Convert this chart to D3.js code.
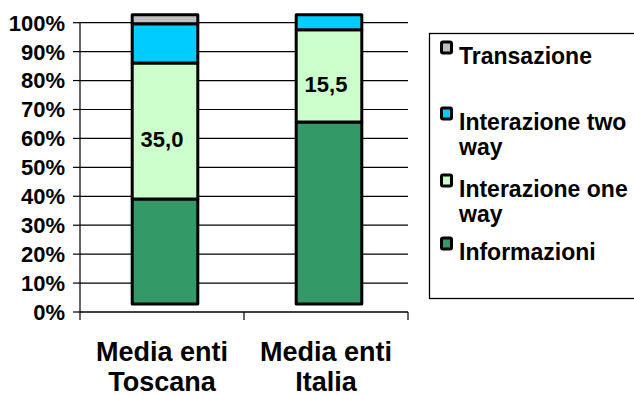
<!DOCTYPE html>
<html>
<head>
<meta charset="utf-8">
<script src="https://cdn.jsdelivr.net/npm/d3@7"></script>
<style>
  body { margin: 0; background: #fff; overflow: hidden; }
  text { font-family: "Liberation Sans", Arial, sans-serif; font-weight: bold; fill: #000; }
</style>
</head>
<body>
<div id="chart"></div>
<script>
// values (percent of each bar)
var categories = [['Media enti', 'Toscana'], ['Media enti', 'Italia']];
var informazioni = [36.3, 62.9];
var oneWay = [47.0, 31.9];
var twoWay = [13.6, 5.2];
var transazione = [3.1, 0];
var barLabels = ['35,0', '15,5'];
var yTicks = [0, 10, 20, 30, 40, 50, 60, 70, 80, 90, 100];

var seriesKeys = ['informazioni', 'oneWay', 'twoWay', 'transazione'];
var seriesColors = ['#339966', '#ccffcc', '#00ccff', '#c0c0c0'];
var legendLabels = [['Transazione'], ['Interazione two', 'way'], ['Interazione one', 'way'], ['Informazioni']];

var width = 634, height = 396;
var depth = { x: 3, y: -8 };

var svg = d3.select('#chart')
  .append('svg')
  .attr('width', width)
  .attr('height', height);

var rows = categories.map(function (c, i) {
  return {
    idx: i,
    informazioni: informazioni[i],
    oneWay: oneWay[i],
    twoWay: twoWay[i],
    transazione: transazione[i]
  };
});

var x = d3.scaleBand()
  .domain(d3.range(categories.length))
  .range([80, 408])
  .paddingInner(0.6)
  .paddingOuter(0.3);

var y = d3.scaleLinear()
  .domain([0, 100])
  .range([312, 22.7]);

// gridlines + y ticks
svg.selectAll('.grid')
  .data(yTicks.slice(1))
  .enter()
  .append('line')
  .attr('x1', 80)
  .attr('x2', 408)
  .attr('y1', function (d) { return y(d); })
  .attr('y2', function (d) { return y(d); })
  .attr('stroke', '#000')
  .attr('stroke-width', 1.2);

svg.selectAll('.ytick')
  .data(yTicks)
  .enter()
  .append('line')
  .attr('x1', 73)
  .attr('x2', 80)
  .attr('y1', function (d) { return y(d); })
  .attr('y2', function (d) { return y(d); })
  .attr('stroke', '#000')
  .attr('stroke-width', 1.2);

svg.selectAll('.ylab')
  .data(yTicks)
  .enter()
  .append('text')
  .attr('x', 65)
  .attr('y', function (d) { return y(d); })
  .attr('dy', '0.36em')
  .attr('text-anchor', 'end')
  .style('font-size', '22px')
  .text(function (d) { return d + '%'; });

// axes
svg.append('line')
  .attr('x1', 80).attr('x2', 80)
  .attr('y1', y(100)).attr('y2', y(0))
  .attr('stroke', '#000').attr('stroke-width', 1.2);

svg.append('line')
  .attr('x1', 80).attr('x2', 408)
  .attr('y1', y(0)).attr('y2', y(0))
  .attr('stroke', '#000').attr('stroke-width', 1.5);

var xTickPos = [80, 80 + x.step(), 80 + 2 * x.step()];
svg.selectAll('.xtick')
  .data(xTickPos)
  .enter()
  .append('line')
  .attr('x1', function (d) { return d; })
  .attr('x2', function (d) { return d; })
  .attr('y1', y(0))
  .attr('y2', y(0) + 8)
  .attr('stroke', '#000')
  .attr('stroke-width', 1.2);

// stacked bars, drawn with a small depth offset
var stack = d3.stack().keys(seriesKeys);
var layers = stack(rows);

var bars = svg.append('g')
  .attr('transform', 'translate(' + depth.x + ',' + depth.y + ')');

layers.forEach(function (layer, li) {
  bars.selectAll('.s' + li)
    .data(layer.filter(function (d) { return d[1] - d[0] > 0; }))
    .enter()
    .append('rect')
    .attr('x', function (d) { return x(d.data.idx); })
    .attr('y', function (d) { return y(d[1]); })
    .attr('width', x.bandwidth())
    .attr('height', function (d) { return y(d[0]) - y(d[1]); })
    .attr('fill', seriesColors[li])
    .attr('stroke', '#000')
    .attr('stroke-width', 3)
    .attr('stroke-linejoin', 'round');
});

// data labels in the one-way segment
var oneLayer = layers[1];
svg.selectAll('.blab')
  .data(oneLayer)
  .enter()
  .append('text')
  .attr('x', function (d) { return x(d.data.idx) + x.bandwidth() / 2; })
  .attr('y', function (d) { return y((d[0] + d[1]) / 2); })
  .attr('dy', '0.36em')
  .attr('text-anchor', 'middle')
  .style('font-size', '22px')
  .text(function (d, i) { return barLabels[i]; });

// category labels
var catText = svg.selectAll('.cat')
  .data(categories)
  .enter()
  .append('text')
  .attr('text-anchor', 'middle')
  .style('font-size', '27px');

catText.selectAll('tspan')
  .data(function (d, i) { return d.map(function (t) { return { t: t, i: i }; }); })
  .enter()
  .append('tspan')
  .attr('x', function (d) { return x(d.i) + x.bandwidth() / 2; })
  .attr('y', function (d, j) { return 361 + j * 30; })
  .text(function (d) { return d.t; });

// legend
var legend = svg.append('g');
legend.append('rect')
  .attr('x', 429.5)
  .attr('y', 33.5)
  .attr('width', 220)
  .attr('height', 265)
  .attr('fill', '#fff')
  .attr('stroke', '#000')
  .attr('stroke-width', 1.3);

var legendBase = [64, 130, 197, 260];
var legendColors = seriesColors.slice().reverse();

legendLabels.forEach(function (lines, i) {
  var g = legend.append('g');
  g.append('rect')
    .attr('x', 441.5)
    .attr('y', legendBase[i] - 22)
    .attr('width', 10)
    .attr('height', 11)
    .attr('rx', 1.5)
    .attr('fill', legendColors[i])
    .attr('stroke', '#000')
    .attr('stroke-width', 3);
  var t = g.append('text')
    .style('font-size', '23px');
  lines.forEach(function (line, j) {
    t.append('tspan')
      .attr('x', 459)
      .attr('y', legendBase[i] + j * 25)
      .text(line);
  });
});
</script>
</body>
</html>
